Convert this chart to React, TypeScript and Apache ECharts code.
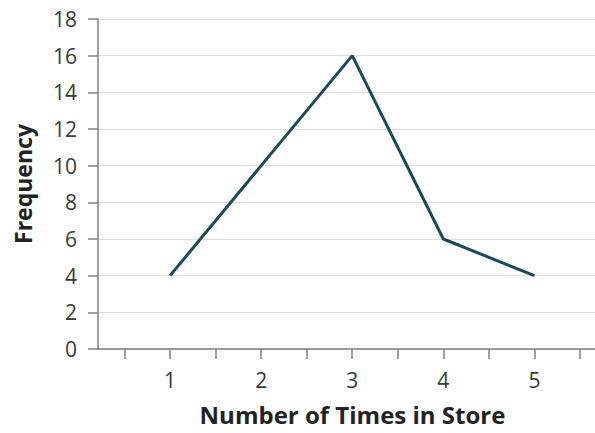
import React, { useEffect, useRef } from "react";
import * as echarts from "echarts";

const timesInStore = [1, 2, 3, 4, 5];
const frequency = [4, 10, 16, 6, 4];
const xTickValues = [0.5, 1, 1.5, 2, 2.5, 3, 3.5, 4, 4.5, 5, 5.5];
const xLabelValues = [1, 2, 3, 4, 5];
const xTitle = "Number of Times in Store";
const yTitle = "Frequency";

export default function App() {
  const ref = useRef<HTMLDivElement>(null);
  useEffect(() => {
    if (!ref.current) return;
    const chart = echarts.init(ref.current, undefined, { renderer: "svg" });
    const font = "'Open Sans', sans-serif";
    chart.setOption({
      animation: false,
      backgroundColor: "#ffffff",
      grid: { left: 98, right: 0, top: 19, bottom: 84, containLabel: false },
      xAxis: {
        type: "value",
        min: 0.209,
        max: 5.665,
        name: xTitle,
        nameLocation: "middle",
        nameGap: 53,
        nameTextStyle: { fontFamily: font, fontWeight: "bold", fontSize: 24, color: "#222", padding: [0, 0, 0, 12] },
        axisLine: { show: true, lineStyle: { color: "#808080", width: 1.5 } },
        axisTick: { show: true, length: 10, customValues: xTickValues, lineStyle: { color: "#808080", width: 1.5 } },
        axisLabel: { customValues: xLabelValues, margin: 20, fontFamily: font, fontSize: 21, color: "#3a3a3a" },
        splitLine: { show: false },
      },
      yAxis: {
        type: "value",
        min: 0,
        max: 18,
        interval: 2,
        name: yTitle,
        nameLocation: "middle",
        nameGap: 64,
        nameTextStyle: { fontFamily: font, fontWeight: "bold", fontSize: 23, color: "#222" },
        axisLine: { show: true, lineStyle: { color: "#808080", width: 1.5 } },
        axisTick: { show: true, length: 10, lineStyle: { color: "#808080", width: 1.5 } },
        axisLabel: { margin: 21, fontFamily: font, fontSize: 21, color: "#3a3a3a" },
        splitLine: { show: true, lineStyle: { color: "#dcdcdc", width: 1 } },
      },
      series: [
        {
          type: "line",
          data: timesInStore.map((x, i) => [x, frequency[i]]),
          showSymbol: false,
          symbol: "none",
          lineStyle: { color: "#174b5b", width: 3 },
        },
      ],
    });
    return () => chart.dispose();
  }, []);
  return (
    <div
      ref={ref}
      style={{ position: "fixed", left: 0, top: 0, width: 595, height: 433 }}
    />
  );
}
